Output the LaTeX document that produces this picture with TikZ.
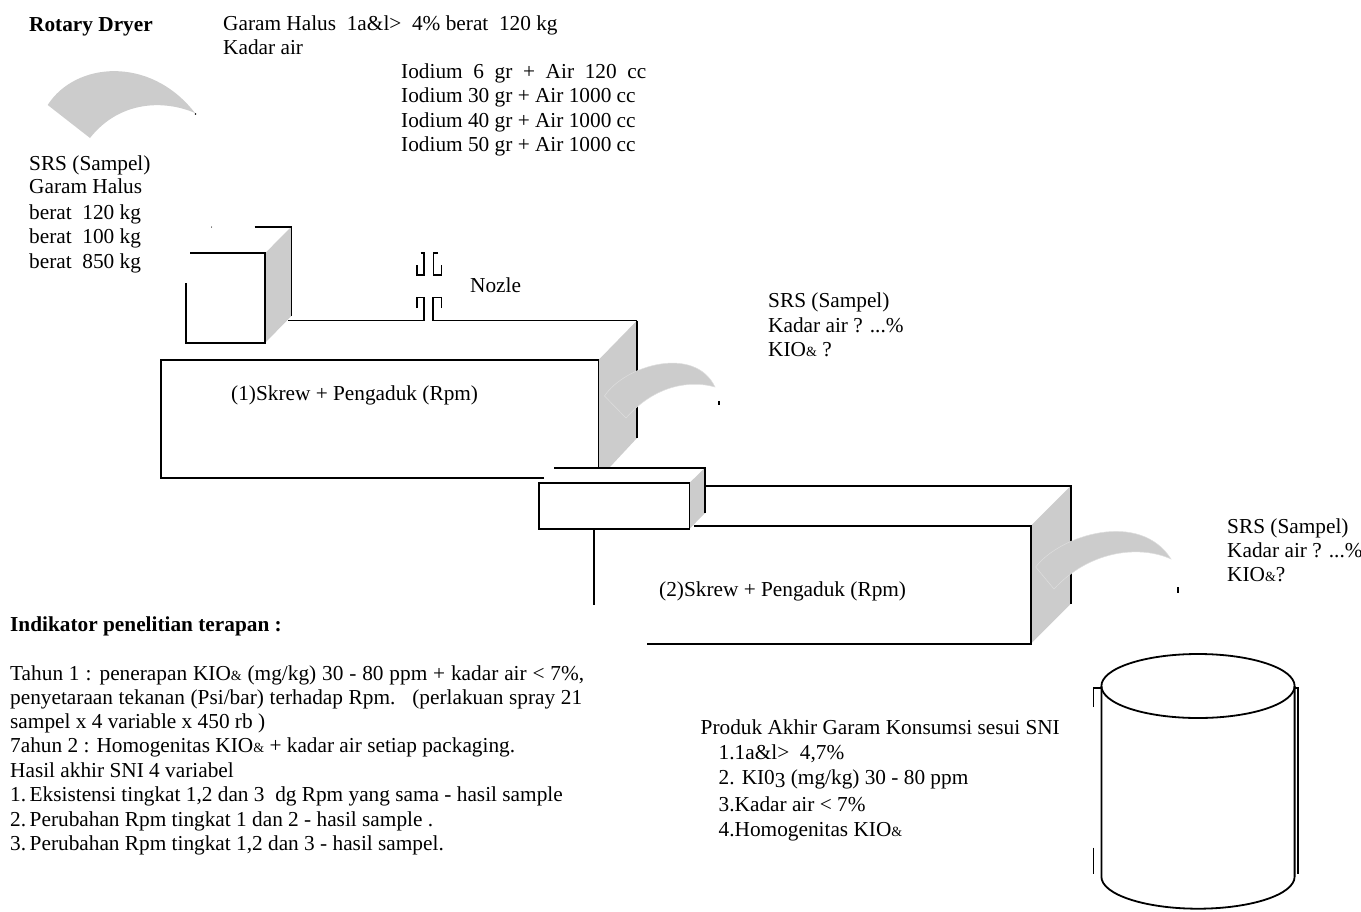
\documentclass[tikz,border=0pt]{standalone}
\usepackage{fontspec}
\setmainfont{Liberation Serif}
\definecolor{sidegray}{HTML}{CCCCCC}
\definecolor{sailedge}{HTML}{DEDEDE}
\newcommand{\smallamp}{{\fontsize{14}{14}\selectfont\&}}
\begin{document}
\begin{tikzpicture}[
  x=1pt, y=-1pt,
  txt/.style={anchor=base west, inner sep=0pt, font=\fontsize{21.3}{24.5}\selectfont},
  head/.style={txt, font=\fontsize{21.3}{24.5}\selectfont\bfseries},
  rim/.style={line width=1.8pt, line cap=butt, line join=miter},
  thin rim/.style={line width=1.4pt},
  side/.style={fill=sidegray, draw=none},
  sail/.style={fill=sidegray, draw=sailedge, line width=0.5pt}
]
  \useasboundingbox (0,0) rectangle (1361,911);

  \node[head] (title) at (29,31) {Rotary Dryer};
  \node[txt] (garam) at (223,30) {Garam Halus\ \ 1a\&l>\ \ 4\% berat\ \ 120 kg};
  \node[txt] (kadar) at (223,54) {Kadar air};
  \node[txt] (iod1) at (401,78) {Iodium\ \ 6\ \ gr\ \ +\ \ Air\ \ 120\ \ cc};
  \node[txt] (iod2) at (401,102.5) {Iodium 30 gr + Air 1000 cc};
  \node[txt] (iod3) at (401,127) {Iodium 40 gr + Air 1000 cc};
  \node[txt] (iod4) at (401,151.5) {Iodium 50 gr + Air 1000 cc};

  \node[txt] (srsa) at (29,170) {SRS (Sampel)};
  \node[txt] (srsb) at (29,193.5) {Garam Halus};
  \node[txt] (srsc) at (29,219) {berat\ \ 120 kg};
  \node[txt] (srsd) at (29,243.5) {berat\ \ 100 kg};
  \node[txt] (srse) at (29,268.5) {berat\ \ 850 kg};

  \node[txt] (nozle) at (470,292) {Nozle};

  \node[txt] (midsrsa) at (768,307) {SRS (Sampel)};
  \node[txt] (midsrsb) at (768,332) {Kadar air ? ...\%};
  \node[txt] (midsrsc) at (768,356) {KIO\smallamp\ ?};

  \node[txt] (endsrsa) at (1227,533) {SRS (Sampel)};
  \node[txt] (endsrsb) at (1227,557) {Kadar air ? ...\%};
  \node[txt] (endsrsc) at (1227,581) {KIO\smallamp?};

  \node[txt] (skrew1) at (231,400) {(1)Skrew + Pengaduk (Rpm)};
  \node[txt] (skrew2) at (659,596) {(2)Skrew + Pengaduk (Rpm)};

  \node[head] (indik) at (10,631) {Indikator penelitian terapan :};
  \node[txt] (ind1) at (10,680) {\makebox[574pt][s]{Tahun 1 : penerapan KIO\smallamp\ (mg/kg) 30 - 80 ppm + kadar air < 7\%,}};
  \node[txt] (ind2) at (10,704) {\makebox[572pt][s]{penyetaraan tekanan (Psi/bar) terhadap Rpm.\ \ \ (perlakuan spray 21}};
  \node[txt] (ind3) at (10,728) {sampel x 4 variable x 450 rb )};
  \node[txt] (ind4) at (10,752.5) {7ahun 2 : Homogenitas KIO\smallamp\ + kadar air setiap packaging.};
  \node[txt] (ind5) at (10,777) {Hasil akhir SNI 4 variabel};
  \node[txt] (ind6) at (10,801.5) {1.\,Eksistensi tingkat 1,2 dan 3\ \ dg Rpm yang sama - hasil sample};
  \node[txt] (ind7) at (10,826) {2.\,Perubahan Rpm tingkat 1 dan 2 - hasil sample .};
  \node[txt] (ind8) at (10,850.5) {3.\,Perubahan Rpm tingkat 1,2 dan 3 - hasil sampel.};

  \node[txt] (produk) at (700.5,734.5) {Produk Akhir Garam Konsumsi sesui SNI};
  \node[txt] (prod1) at (718.5,759) {1.1a\&l>\ \ 4,7\%};
  \node[txt] (prod2) at (718.5,784.5) {2. KI0\raisebox{-3pt}{3} (mg/kg) 30 - 80 ppm};
  \node[txt] (prod3) at (718.5,811) {3.Kadar air < 7\%};
  \node[txt] (prod4) at (718.5,836) {4.Homogenitas KIO\smallamp};

  % first sail and feed hopper
  \fill[sidegray] (47.7,105) .. controls (75,62) and (150,55) .. (195,113)
    .. controls (165,100) and (120,100) .. (90,138) -- cycle;
  \fill (195.5,114) circle (0.8);
  \fill (211.6,227) circle (0.6);
  \fill[side] (265,253.3) -- (291.4,226.7) -- (291.4,316) -- (265,343) -- cycle;
  \draw[rim] (254.5,226.7) -- (291.4,226.7) -- (291.4,316);
  \draw[rim] (190,253.3) -- (265,253.3) -- (265,342.7) -- (185.6,342.7) -- (185.6,283);

  % nozle
  \draw[thin rim] (420.6,253) -- (424,253) -- (424,275) -- (417,275) -- (417,265);
  \draw[thin rim] (438,253) -- (433.4,253) -- (433.4,275) -- (441.5,275) -- (441.5,265);
  \draw[thin rim] (417,308) -- (417,297.7) -- (424,297.7) -- (424,320.5);
  \draw[thin rim] (441.5,308) -- (441.5,297.7) -- (433,297.7) -- (433,320.5);
  \draw[rim] (288,320.5) -- (424,320.5);
  \draw[rim] (433,320.5) -- (637,320.5);

  % first screw body
  \fill[side] (598.5,360) -- (637,320.5) -- (637,438) -- (610,467) -- (598.5,467) -- cycle;
  \draw[rim] (637,320.5) -- (637,438);
  \draw[rim] (544,478) -- (160.6,478) -- (160.6,360) -- (598.5,360) -- (598.5,467);
  \filldraw[sail] (604.5,396) .. controls (625,365) and (695,345) .. (715,387)
    .. controls (690,380) and (655,385) .. (626,418) -- cycle;
  \fill (718.2,401) rectangle (719.8,405);

  % transfer box
  \fill[side] (689.4,483) -- (705,467.7) -- (705,513) -- (689.4,529) -- cycle;
  \draw[rim] (554,467.7) -- (705,467.7) -- (705,513);
  \draw[rim] (539,483) rectangle (689.4,529.3);
  \draw[rim] (593.8,529.3) -- (593.8,605);

  % second screw body
  \fill[side] (1031,525.7) -- (1070.6,486) -- (1070.6,604) -- (1031,643.7) -- cycle;
  \draw[rim] (705,486) -- (1070.6,486) -- (1070.6,604);
  \draw[rim] (693.5,525.7) -- (1031,525.7) -- (1031,643.7) -- (647,643.7);
  \filldraw[sail] (1035.7,567) .. controls (1060,535) and (1140,510) .. (1171,559)
    .. controls (1140,545) and (1090,550) .. (1054,589) -- cycle;
  \fill (1177.4,587) rectangle (1179,593);

  % product drum
  \draw[rim] (1198,686) ellipse (96.6 and 32);
  \draw[rim] (1101.4,686) -- (1101.4,876.7) arc[start angle=180, end angle=360, x radius=96.6, y radius=-32] -- (1294.6,686);
  \draw[thin rim] (1093.5,707) -- (1093.5,688) -- (1101.4,688);
  \draw[thin rim] (1093.5,847.7) -- (1093.5,874);
  \draw[thin rim] (1294.6,688) -- (1298,688) -- (1298,874);
\end{tikzpicture}
\end{document}
